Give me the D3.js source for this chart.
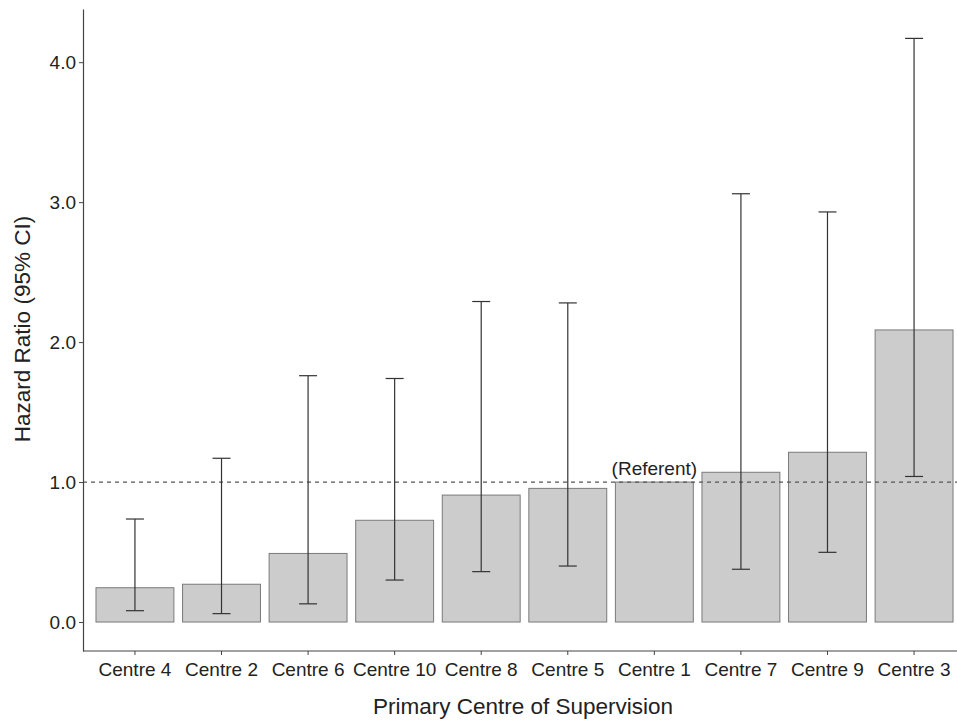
<!DOCTYPE html>
<html>
<head>
<meta charset="utf-8">
<script src="https://cdn.jsdelivr.net/npm/d3@7"></script>
<style>
  body { margin: 0; background: #fff; }
  svg { display: block; font-family: "Liberation Sans", Arial, sans-serif; }
</style>
</head>
<body>
<svg id="chart" width="957" height="722"></svg>
<script>
// ── Data ──
const centres = ["Centre 4", "Centre 2", "Centre 6", "Centre 10", "Centre 8",
  "Centre 5", "Centre 1", "Centre 7", "Centre 9", "Centre 3"];
const hazard = [0.245, 0.27, 0.49, 0.727, 0.907, 0.955, 1.0, 1.07, 1.213, 2.087];
const ciLow = [0.081, 0.06, 0.13, 0.30, 0.36, 0.40, null, 0.377, 0.498, 1.04];
const ciHigh = [0.736, 1.17, 1.76, 1.74, 2.29, 2.28, null, 3.06, 2.93, 4.17];
const yTicks = [0, 1, 2, 3, 4];
const referent = "Centre 1";

const rows = centres.map((c, i) => ({ c, hr: hazard[i], lo: ciLow[i], hi: ciHigh[i] }));

// ── Layout ──
const svg = d3.select("#chart");
const x = d3.scaleBand().domain(centres).range([83, 966]).paddingInner(0.1).paddingOuter(0.15);
const y = d3.scaleLinear().domain([-0.207, 4.38]).range([651, 9]);

// Bars
svg.append("g").selectAll("rect").data(rows).join("rect")
  .attr("x", (d) => x(d.c))
  .attr("y", (d) => y(d.hr))
  .attr("width", x.bandwidth())
  .attr("height", (d) => y(0) - y(d.hr))
  .attr("fill", "#cccccc")
  .attr("stroke", "#7a7a7a")
  .attr("stroke-width", 1);

// Reference line at HR = 1
svg.append("line")
  .attr("x1", 83).attr("x2", 957)
  .attr("y1", y(1)).attr("y2", y(1))
  .attr("stroke", "#555")
  .attr("stroke-width", 1.2)
  .attr("stroke-dasharray", "4,4");

// Error bars
const eb = svg.append("g").selectAll("g").data(rows.filter((d) => d.lo != null)).join("g")
  .attr("stroke", "#333").attr("stroke-width", 1.2);
const cx = (d) => x(d.c) + x.bandwidth() / 2;
eb.append("line").attr("x1", cx).attr("x2", cx).attr("y1", (d) => y(d.lo)).attr("y2", (d) => y(d.hi));
eb.append("line").attr("x1", (d) => cx(d) - 9).attr("x2", (d) => cx(d) + 9).attr("y1", (d) => y(d.hi)).attr("y2", (d) => y(d.hi));
eb.append("line").attr("x1", (d) => cx(d) - 9).attr("x2", (d) => cx(d) + 9).attr("y1", (d) => y(d.lo)).attr("y2", (d) => y(d.lo));

// Referent label
svg.append("text")
  .attr("x", x(referent) + x.bandwidth() / 2)
  .attr("y", y(1) - 7)
  .attr("text-anchor", "middle")
  .attr("font-size", "19px")
  .attr("fill", "#222")
  .text("(Referent)");

// ── Axes ──
const xAxis = svg.append("g").attr("transform", "translate(0,651)")
  .call(d3.axisBottom(x).tickSize(4).tickPadding(7.5).tickSizeOuter(0));
xAxis.select(".domain").attr("d", "M83,0H957");
const yAxis = svg.append("g").attr("transform", "translate(83,0)")
  .call(d3.axisLeft(y).tickValues(yTicks).tickFormat(d3.format(".1f")).tickSize(4).tickPadding(3).tickSizeOuter(0));

[xAxis, yAxis].forEach((a) => {
  a.select(".domain").attr("stroke", "#444").attr("stroke-width", 1.2);
  a.selectAll(".tick line").attr("stroke", "#444");
  a.selectAll("text").attr("fill", "#222").attr("font-size", "19px").attr("font-family", null);
});

// Axis titles
svg.append("text")
  .attr("x", 523).attr("y", 714)
  .attr("text-anchor", "middle")
  .attr("font-size", "22.5px").attr("fill", "#222")
  .text("Primary Centre of Supervision");

svg.append("text")
  .attr("transform", "translate(30,329) rotate(-90)")
  .attr("text-anchor", "middle")
  .attr("font-size", "22.5px").attr("fill", "#222")
  .text("Hazard Ratio (95% CI)");
</script>
</body>
</html>
